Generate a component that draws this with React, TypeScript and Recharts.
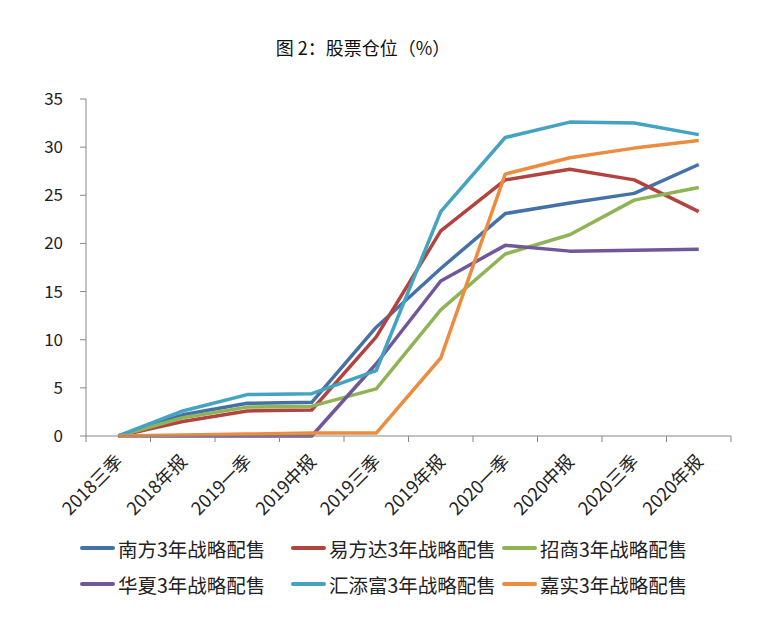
import React from 'react';
import { LineChart, Line, XAxis, YAxis, Legend } from 'recharts';

const periods = ['2018三季', '2018年报', '2019一季', '2019中报', '2019三季', '2019年报', '2020一季', '2020中报', '2020三季', '2020年报'];

const nanfang = [0, 2.2, 3.4, 3.5, 11.3, 17.4, 23.1, 24.2, 25.2, 28.2];
const yifangda = [0, 1.5, 2.6, 2.7, 10.3, 21.3, 26.6, 27.7, 26.6, 23.3];
const zhaoshang = [0, 1.9, 3.0, 3.1, 4.9, 13.1, 18.9, 20.9, 24.5, 25.8];
const huaxia = [0, 0, 0, 0, 7.5, 16.1, 19.8, 19.2, 19.3, 19.4];
const huitianfu = [0, 2.6, 4.3, 4.4, 6.8, 23.3, 31.0, 32.6, 32.5, 31.3];
const jiashi = [0, 0.1, 0.2, 0.3, 0.3, 8.1, 27.2, 28.9, 29.9, 30.7];

const yTicks = [0, 5, 10, 15, 20, 25, 30, 35];

const series = [
  { key: 'nanfang', name: '南方3年战略配售', color: '#4571A8', values: nanfang },
  { key: 'yifangda', name: '易方达3年战略配售', color: '#B3433F', values: yifangda },
  { key: 'zhaoshang', name: '招商3年战略配售', color: '#8FB455', values: zhaoshang },
  { key: 'huaxia', name: '华夏3年战略配售', color: '#70579A', values: huaxia },
  { key: 'huitianfu', name: '汇添富3年战略配售', color: '#43A3C0', values: huitianfu },
  { key: 'jiashi', name: '嘉实3年战略配售', color: '#EC8C3F', values: jiashi },
];

const data = periods.map((p, i) => {
  const row: Record<string, string | number> = { period: p };
  series.forEach((s) => {
    row[s.key] = s.values[i];
  });
  return row;
});

const FONT = '"Noto Sans CJK SC", "Noto Sans", sans-serif';
const AXIS = '#868686';
const W = 758;
const H = 606;
const LEFT = 78;
const RIGHT = 35;
const HALF = (W - LEFT - RIGHT) / periods.length / 2;

function XTick(props: any) {
  const { x, y, payload, index } = props;
  const last = index === periods.length - 1;
  const tx = x + 1;
  const ty = y + 22;
  return (
    <g>
      <line x1={x - HALF} y1={y} x2={x - HALF} y2={y + 6} stroke={AXIS} />
      {last && <line x1={x + HALF} y1={y} x2={x + HALF} y2={y + 6} stroke={AXIS} />}
      <text
        x={tx}
        y={ty}
        dy="0.35em"
        textAnchor="end"
        fontSize={18}
        fontFamily={FONT}
        fill="#222"
        transform={`rotate(-45, ${tx}, ${ty})`}
      >
        {payload.value}
      </text>
    </g>
  );
}

function LegendBox() {
  return (
    <div style={{ position: 'relative', width: W, height: 72, fontFamily: FONT, fontSize: 19.5, color: '#222' }}>
      {series.map((s, i) => (
        <div
          key={s.key}
          style={{
            position: 'absolute',
            left: 72 + (i % 3) * 211,
            top: (i < 3 ? 0 : 36),
            height: 30,
            display: 'flex',
            alignItems: 'center',
            whiteSpace: 'nowrap',
          }}
        >
          <span style={{ display: 'inline-block', width: 35, height: 4, background: s.color, marginRight: 3, borderRadius: 2 }} />
          <span>{s.name}</span>
        </div>
      ))}
    </div>
  );
}

export default function App() {
  return (
    <div style={{ position: 'relative', width: W, height: H, background: '#fff' }}>
      <div
        style={{
          position: 'absolute',
          top: 26,
          left: 8,
          width: 694,
          textAlign: 'center',
          fontFamily: FONT,
          fontSize: 18,
          color: '#111',
        }}
      >
        图 2：股票仓位（%）
      </div>
      <LineChart width={W} height={H} data={data} margin={{ top: 91, right: RIGHT, left: 0, bottom: 0 }}>
        <XAxis
          dataKey="period"
          height={178}
          padding={{ left: HALF, right: HALF }}
          stroke={AXIS}
          tickLine={false}
          tickSize={0}
          tickMargin={0}
          interval={0}
          tick={<XTick />}
        />
        <YAxis
          width={LEFT}
          domain={[0, 35]}
          ticks={yTicks}
          stroke={AXIS}
          tickSize={6}
          tickMargin={17}
          tick={{ fontSize: 17, fontFamily: FONT, fill: '#222' }}
        />
        <Legend
          verticalAlign="middle"
          align="center"
          wrapperStyle={{ top: 525, left: 0, width: W }}
          content={() => <LegendBox />}
        />
        {series.map((s) => (
          <Line
            key={s.key}
            type="linear"
            dataKey={s.key}
            name={s.name}
            stroke={s.color}
            strokeWidth={3.5}
            strokeLinejoin="round"
            dot={false}
            activeDot={false}
            isAnimationActive={false}
          />
        ))}
      </LineChart>
    </div>
  );
}
